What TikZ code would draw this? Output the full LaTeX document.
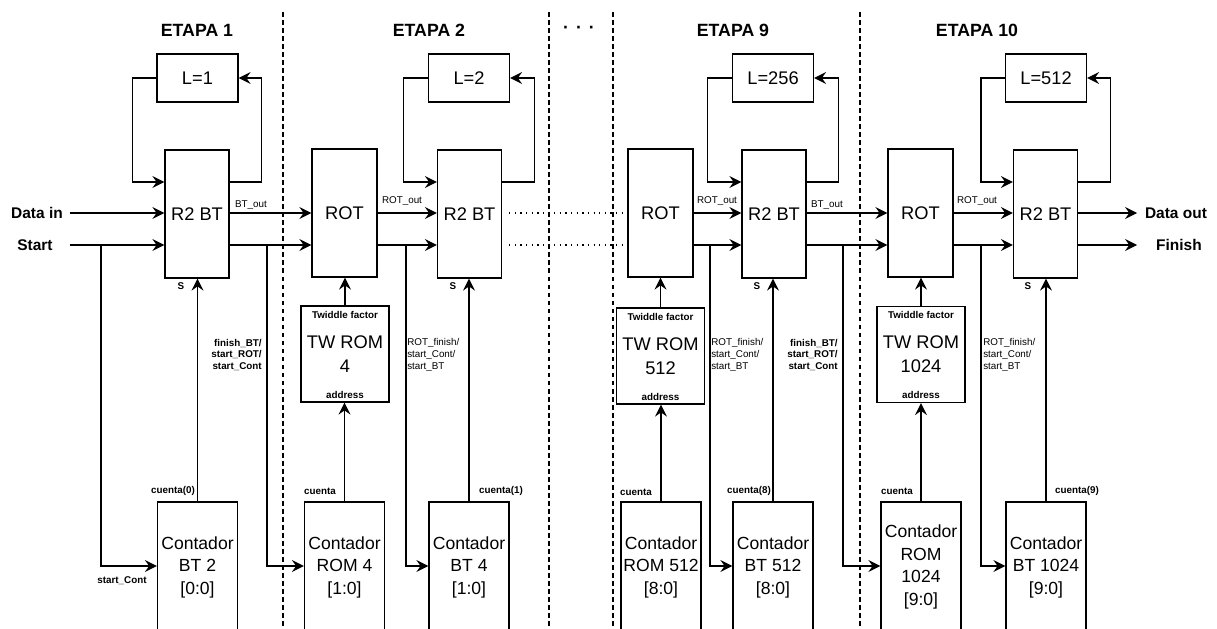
\documentclass[tikz,border=0pt]{standalone}
\usepackage{fontspec}
\setmainfont{Liberation Sans}
\usetikzlibrary{arrows.meta}

\tikzset{
  blk/.style={draw, line width=0.9pt, inner sep=0pt, align=center, font=\fontsize{13}{17}\selectfont},
  rtwo/.style={blk, minimum width=1.6cm, minimum height=3.2cm},
  rotbox/.style={blk, minimum width=1.625cm, minimum height=3.2cm},
  lbox/.style={blk, minimum width=2.025cm, minimum height=1.2cm},
  rombox/.style={blk, minimum width=2.2cm, minimum height=2.4cm},
  cntbox/.style={blk, minimum width=2cm, minimum height=3.25cm, font=\fontsize{12.5}{16}\selectfont},
  sig/.style={inner sep=0pt, font=\fontsize{7}{8.5}\selectfont\bfseries},
  sigr/.style={inner sep=0pt, font=\fontsize{7}{8.5}\selectfont},
  stage/.style={inner sep=0pt, font=\fontsize{12.6}{15}\selectfont\bfseries},
  port/.style={inner sep=0pt, font=\fontsize{11}{13}\selectfont\bfseries},
  wire/.style={line width=0.9pt},
  arr/.style={wire, -{Stealth[length=8.5pt, width=8.5pt, inset=3pt]}},
  sep/.style={line width=0.9pt, dash pattern=on 3.4pt off 2.3pt},
  gap/.style={line width=0.9pt, dash pattern=on 0.9pt off 3.1pt, shorten <=5pt},
}

\begin{document}
\begin{tikzpicture}[x=0.025cm, y=-0.025cm]
\useasboundingbox (0,0) rectangle (1217,629);
\clip (0,0) rectangle (1217,629);
\fill[white] (0,0) rectangle (1217,629);

\coordinate (rowfb) at (0,182);
\coordinate (rowd) at (0,213);
\coordinate (rowc) at (0,245);
\coordinate (rowsc) at (0,566);

\draw[sep] (283,12) -- (283,629);
\draw[sep] (549,12) -- (549,629);
\draw[sep] (613,12) -- (613,629);
\draw[sep] (860,12) -- (860,629);

\node[stage] (et1) at (197,30) {ETAPA 1};
\node[stage] (et2) at (429,30) {ETAPA 2};
\node[stage] (dots) at (579,30) {·\hspace{5pt}·\hspace{5pt}·};
\node[stage] (et9) at (733,30) {ETAPA 9};
\node[stage] (et10) at (977,30) {ETAPA 10};

\node[port] (din) at (37,213) {Data in};
\node[port] (start) at (35,245) {Start};
\node[port] (dout) at (1176,213) {Data out};
\node[port] (fin) at (1179,245) {Finish};
\coordinate (din0) at (70,213);
\coordinate (st0) at (70,245);
\coordinate (dout0) at (1137,213);
\coordinate (fin0) at (1137,245);

\node[lbox] (lat1) at (197.5,78) {L=1};
\node[rtwo] (bt1) at (197,214) {R2 BT};
\node[cntbox] (cnt1) at (197.5,567) {Contador\\BT 2\\{}[0:0]};

\node[rotbox] (rot2) at (344.5,213) {ROT};
\node[rombox] (tw2) at (345,354) {TW ROM\\4};
\node[cntbox] (cnt2) at (344.5,567) {Contador\\ROM 4\\{}[1:0]};
\node[lbox] (lat2) at (469,78) {L=2};
\node[rtwo] (bt2) at (469.5,214) {R2 BT};
\node[cntbox] (cnt3) at (469,567) {Contador\\BT 4\\{}[1:0]};

\node[rotbox] (rot9) at (660.5,213) {ROT};
\node[rombox] (tw9) at (660.5,356) {TW ROM\\512};
\node[cntbox] (cnt9r) at (661,567) {Contador\\ROM 512\\{}[8:0]};
\node[lbox] (lat9) at (773,78) {L=256};
\node[rtwo] (bt9) at (774,214) {R2 BT};
\node[cntbox] (cnt9b) at (773,567) {Contador\\BT 512\\{}[8:0]};

\node[rotbox] (rot10) at (920.5,213) {ROT};
\node[rombox] (tw10) at (921,354.5) {TW ROM\\1024};
\node[cntbox] (cnt10r) at (921,567) {Contador\\ROM\\1024\\{}[9:0]};
\node[lbox] (lat10) at (1046,78) {L=512};
\node[rtwo] (bt10) at (1045.5,214) {R2 BT};
\node[cntbox] (cnt10b) at (1046,567) {Contador\\BT 1024\\{}[9:0]};

\coordinate (stb) at (101,245);
\coordinate (br1) at (267,245);
\coordinate (br2) at (406,245);
\coordinate (br9a) at (710,245);
\coordinate (br9b) at (843,245);
\coordinate (br10) at (981,245);

\draw[arr] (din0) -- (bt1.west |- rowd);
\draw[arr] (st0) -- (bt1.west |- rowc);
\draw[arr] (stb) |- (cnt1.west |- rowsc);
\draw[arr] (bt1.east |- rowfb) -- ++(32,0) |- (lat1.east);
\draw[arr] (lat1.west) -- ++(-24,0) |- (bt1.west |- rowfb);
\draw[arr] (cnt1.north) -- (cnt1.north |- bt1.south);
\draw[arr] (bt1.east |- rowd) -- (rot2.west |- rowd);
\draw[arr] (bt1.east |- rowc) -- (rot2.west |- rowc);
\draw[arr] (br1) |- (cnt2.west |- rowsc);

\draw[arr] (cnt2.north) -- (cnt2.north |- tw2.south);
\draw[arr] (tw2.north) -- (tw2.north |- rot2.south);
\draw[arr] (rot2.east |- rowd) -- (bt2.west |- rowd);
\draw[arr] (rot2.east |- rowc) -- (bt2.west |- rowc);
\draw[arr] (br2) |- (cnt3.west |- rowsc);
\draw[arr] (bt2.east |- rowfb) -- ++(32,0) |- (lat2.east);
\draw[arr] (lat2.west) -- ++(-24,0) |- (bt2.west |- rowfb);
\draw[arr] (cnt3.north) -- (cnt3.north |- bt2.south);
\draw[gap] (bt2.east |- rowd) -- (rot9.west |- rowd);
\draw[gap] (bt2.east |- rowc) -- (rot9.west |- rowc);

\draw[arr] (cnt9r.north) -- (cnt9r.north |- tw9.south);
\draw[arr] (tw9.north) -- (tw9.north |- rot9.south);
\draw[arr] (rot9.east |- rowd) -- (bt9.west |- rowd);
\draw[arr] (rot9.east |- rowc) -- (bt9.west |- rowc);
\draw[arr] (br9a) |- (cnt9b.west |- rowsc);
\draw[arr] (bt9.east |- rowfb) -- ++(32,0) |- (lat9.east);
\draw[arr] (lat9.west) -- ++(-24,0) |- (bt9.west |- rowfb);
\draw[arr] (cnt9b.north) -- (cnt9b.north |- bt9.south);
\draw[arr] (bt9.east |- rowd) -- (rot10.west |- rowd);
\draw[arr] (bt9.east |- rowc) -- (rot10.west |- rowc);
\draw[arr] (br9b) |- (cnt10r.west |- rowsc);

\draw[arr] (cnt10r.north) -- (cnt10r.north |- tw10.south);
\draw[arr] (tw10.north) -- (tw10.north |- rot10.south);
\draw[arr] (rot10.east |- rowd) -- (bt10.west |- rowd);
\draw[arr] (rot10.east |- rowc) -- (bt10.west |- rowc);
\draw[arr] (br10) |- (cnt10b.west |- rowsc);
\draw[arr] (bt10.east |- rowfb) -- ++(32,0) |- (lat10.east);
\draw[arr] (lat10.west) -- ++(-24,0) |- (bt10.west |- rowfb);
\draw[arr] (cnt10b.north) -- (cnt10b.north |- bt10.south);
\draw[arr] (bt10.east |- rowd) -- (dout0);
\draw[arr] (bt10.east |- rowc) -- (fin0);

\node[sigr] (btout1) at (251,205) {BT\_out};
\node[sig] (s1) at (181,286) {S};
\node[sig, align=right, anchor=east] (lb1) at (262,355) {finish\_BT/\\start\_ROT/\\start\_Cont};
\node[sig] (q1) at (173,491) {cuenta(0)};
\node[sig] (sc1) at (122,581) {start\_Cont};

\node[sigr] (rotout2) at (402,201) {ROT\_out};
\node[sig] (tf2) at (345,315) {Twiddle factor};
\node[sig] (ad2) at (345,395) {address};
\node[sig] (q2) at (320,491) {cuenta};
\node[sigr, align=left, anchor=west] (lb2) at (407,355) {ROT\_finish/\\start\_Cont/\\start\_BT};
\node[sig] (s2) at (453,286) {S};
\node[sig] (q3) at (501,491) {cuenta(1)};

\node[sigr] (rotout9) at (717,201) {ROT\_out};
\node[sigr] (btout9) at (827,205) {BT\_out};
\node[sig] (tf9) at (660.5,317) {Twiddle factor};
\node[sig] (ad9) at (660.5,397) {address};
\node[sig] (q9r) at (636,492) {cuenta};
\node[sigr, align=left, anchor=west] (lb9a) at (711,355) {ROT\_finish/\\start\_Cont/\\start\_BT};
\node[sig, align=right, anchor=east] (lb9b) at (838,355) {finish\_BT/\\start\_ROT/\\start\_Cont};
\node[sig] (s9) at (757,286) {S};
\node[sig] (q9b) at (749,491) {cuenta(8)};

\node[sigr] (rotout10) at (977,201) {ROT\_out};
\node[sig] (tf10) at (921,315) {Twiddle factor};
\node[sig] (ad10) at (921,395) {address};
\node[sig] (q10r) at (897,491) {cuenta};
\node[sigr, align=left, anchor=west] (lb10) at (983,355) {ROT\_finish/\\start\_Cont/\\start\_BT};
\node[sig] (s10) at (1028,286) {S};
\node[sig] (q10b) at (1077,491) {cuenta(9)};
\end{tikzpicture}
\end{document}
